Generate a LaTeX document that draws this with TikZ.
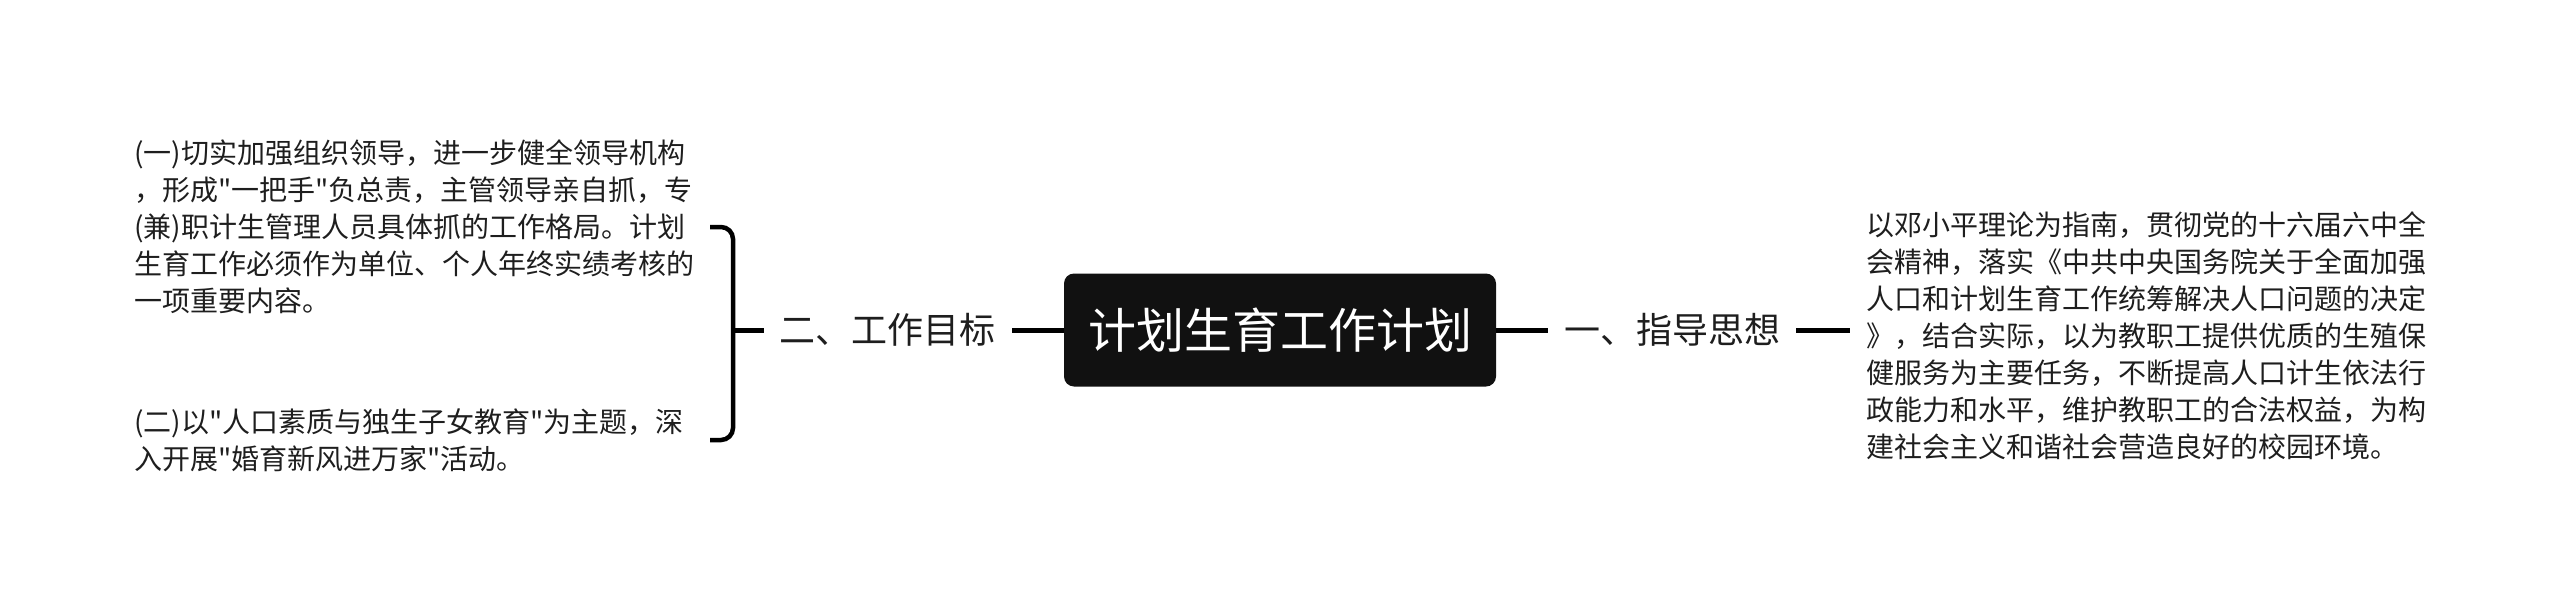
\documentclass[tikz,border=0pt]{standalone}
\usepackage{fontspec}
\setmainfont{Noto Sans CJK SC}[Ligatures=TeXOff]
\definecolor{txt}{HTML}{1E1E1E}
\definecolor{rootfill}{HTML}{111111}
\begin{document}
\begin{tikzpicture}[x=1pt,y=-1pt,
  conn/.style={line width=5pt, draw=black},
  brk/.style={line width=4.5pt, draw=black, rounded corners=12pt},
  leaf/.style={font=\fontsize{28}{37}\selectfont, align=left, inner xsep=16pt, inner ysep=0pt, text=txt},
  branch/.style={font=\fontsize{36}{40}\selectfont, inner xsep=16pt, inner ysep=4pt, text=txt},
  rootbox/.style={fill=rootfill, rounded corners=10pt, text=white, font=\fontsize{48}{56}\selectfont, minimum width=432pt, minimum height=113pt, inner sep=0pt}]
\useasboundingbox (0,0) rectangle (2560,608);
\node[rootbox] (root) at (1280,330) {计划生育工作计划};
\node[branch, anchor=east] (b2) at (1012,330) {二、工作目标};
\node[branch, anchor=west] (b1) at (1548,330) {一、指导思想};
\node[leaf, anchor=west] (r1) at (1850,336) {以邓小平理论为指南，贯彻党的十六届六中全\\会精神，落实《中共中央国务院关于全面加强\\人口和计划生育工作统筹解决人口问题的决定\\》，结合实际，以为教职工提供优质的生殖保\\健服务为主要任务，不断提高人口计生依法行\\政能力和水平，维护教职工的合法权益，为构\\建社会主义和谐社会营造良好的校园环境。};
\node[leaf, anchor=west] (l1) at (118,227) {(一)切实加强组织领导，进一步健全领导机构\\，形成"一把手"负总责，主管领导亲自抓，专\\(兼)职计生管理人员具体抓的工作格局。计划\\生育工作必须作为单位、个人年终实绩考核的\\一项重要内容。};
\node[leaf, anchor=west] (l2) at (118,440) {(二)以"人口素质与独生子女教育"为主题，深\\入开展"婚育新风进万家"活动。};
\coordinate (bt) at (733,330);
\coordinate (bx) at (710,0);
\draw[conn] (root.west) -- (b2.east);
\draw[conn] (root.east) -- (b1.west);
\draw[conn] (b1.east) -- (b1.east -| r1.west);
\draw[conn] (bt) -- (b2.west);
\draw[brk] (l1.east -| bx) -- (l1.east -| bt) -- (l2.east -| bt) -- (l2.east -| bx);
\end{tikzpicture}
\end{document}
